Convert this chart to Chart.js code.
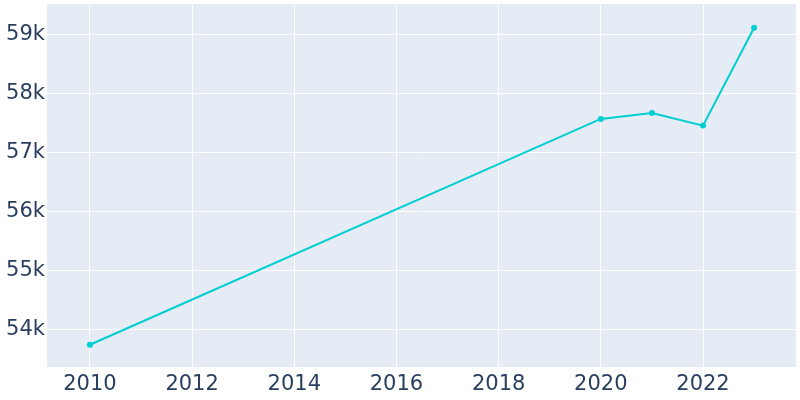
<!DOCTYPE html>
<html>
<head>
<meta charset="utf-8">
<script src="https://cdn.jsdelivr.net/npm/chart.js@4"></script>
<style>
  html, body { margin: 0; padding: 0; background: #fff; }
  #wrap { width: 800px; height: 400px; }
</style>
</head>
<body>
<div id="wrap"><canvas id="popChart" width="800" height="400"></canvas></div>
<script>
const years = [2010, 2020, 2021, 2022, 2023];
const population = [53741, 57569, 57670, 57455, 59113];
const xTicks = [2010, 2012, 2014, 2016, 2018, 2020, 2022];
const yTicks = [54000, 55000, 56000, 57000, 58000, 59000];

const plotBackground = {
    id: 'plotBackground',
    beforeDraw(chart) {
        const { ctx, chartArea } = chart;
        ctx.save();
        ctx.fillStyle = '#E5ECF6';
        ctx.fillRect(chartArea.left, chartArea.top, chartArea.right - chartArea.left, chartArea.bottom - chartArea.top);
        ctx.restore();
    }
};

const tickFont = { family: 'DejaVu Sans', size: 21 };

new Chart(document.getElementById('popChart').getContext('2d'), {
    type: 'line',
    data: {
        datasets: [{
            data: years.map((y, i) => ({ x: y, y: population[i] })),
            borderColor: '#00CED1',
            backgroundColor: '#00CED1',
            borderWidth: 2,
            pointRadius: 2,
            pointHoverRadius: 2,
            fill: false,
            tension: 0
        }]
    },
    options: {
        responsive: false,
        animation: false,
        layout: { padding: { top: 3, right: 3, left: 0, bottom: 0 } },
        plugins: { legend: { display: false }, tooltip: { enabled: false } },
        scales: {
            x: {
                type: 'linear',
                min: 2009.16,
                max: 2023.82,
                afterBuildTicks: scale => { scale.ticks = xTicks.map(v => ({ value: v })); },
                afterFit: scale => {
                    scale.height = 33;
                    scale.paddingLeft = 0;
                    scale.paddingRight = 0;
                },
                grid: { color: '#ffffff', lineWidth: 1, drawTicks: false },
                border: { display: false },
                ticks: {
                    color: '#2a3f5f',
                    font: tickFont,
                    padding: 5,
                    maxRotation: 0,
                    callback: v => String(v)
                }
            },
            y: {
                min: 53364,
                max: 59516,
                afterBuildTicks: scale => { scale.ticks = yTicks.map(v => ({ value: v })); },
                afterFit: scale => {
                    scale.width = 47;
                    scale.paddingTop = 0;
                    scale.paddingBottom = 0;
                },
                grid: { color: '#ffffff', lineWidth: 1, drawTicks: false },
                border: { display: false },
                ticks: {
                    color: '#2a3f5f',
                    font: tickFont,
                    padding: 2,
                    callback: v => (v / 1000) + 'k'
                }
            }
        }
    },
    plugins: [plotBackground]
});
</script>
</body>
</html>
